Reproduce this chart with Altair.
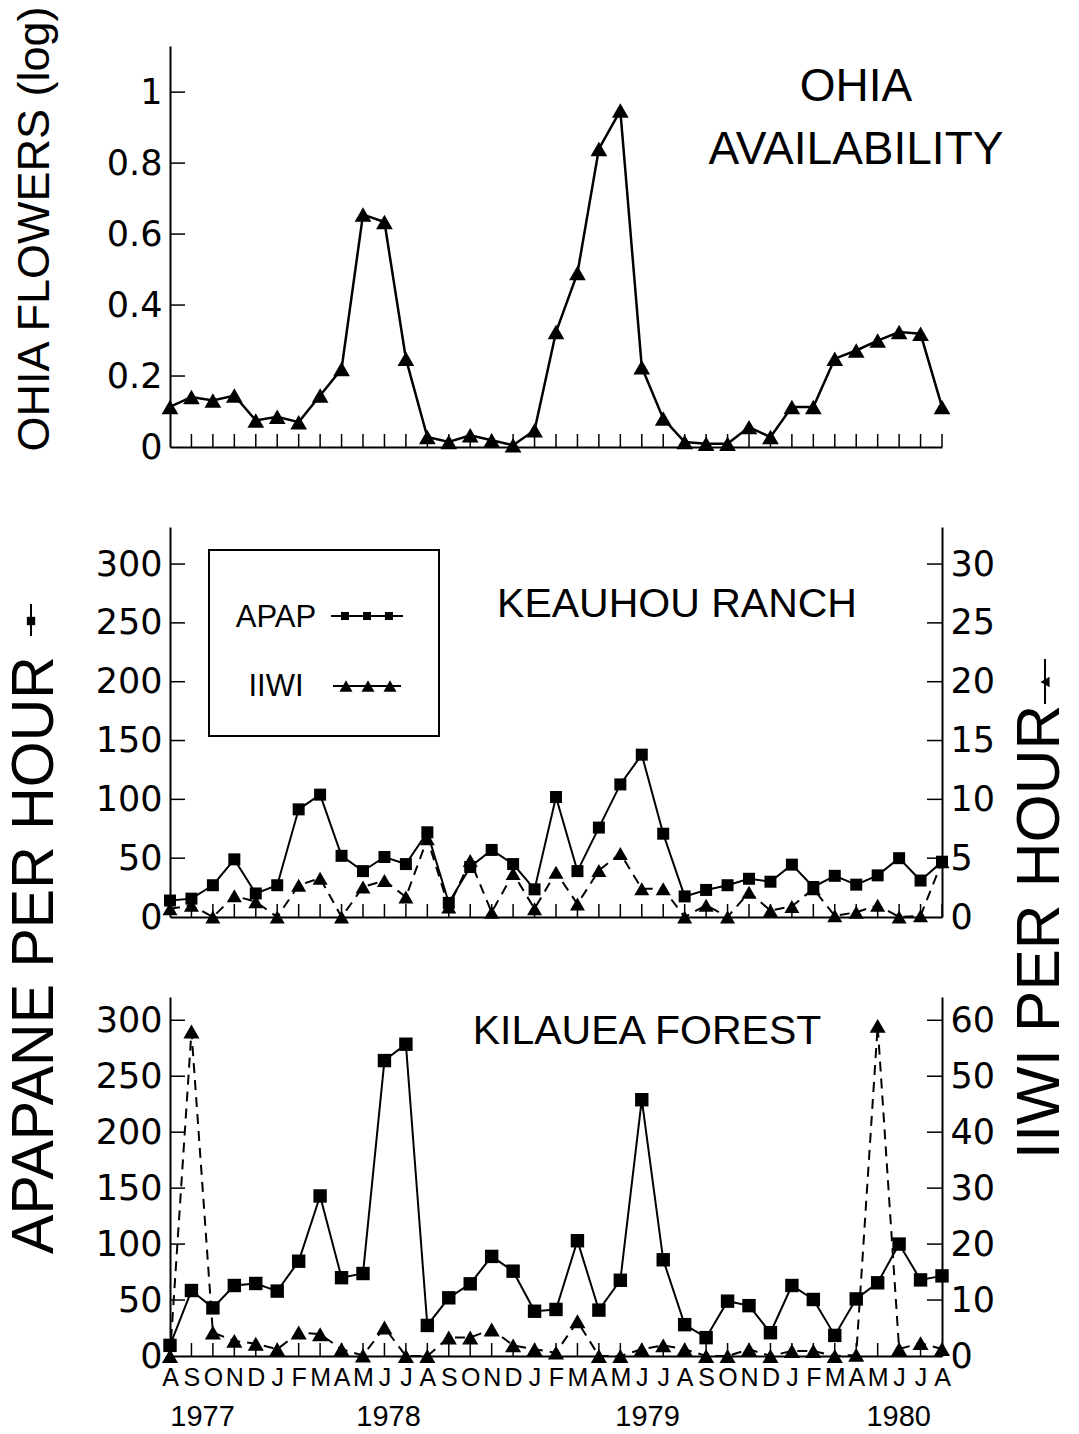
import altair as alt
import pandas as pd

# ---------------- data ----------------
months = ["A", "S", "O", "N", "D", "J", "F", "M", "A", "M", "J", "J",
          "A", "S", "O", "N", "D", "J", "F", "M", "A", "M", "J", "J",
          "A", "S", "O", "N", "D", "J", "F", "M", "A", "M", "J", "J", "A"]

ohia_flowers = [0.113, 0.141, 0.131, 0.145, 0.075, 0.085, 0.07, 0.145, 0.22,
                0.655, 0.634, 0.249, 0.028, 0.014, 0.033, 0.019, 0.005, 0.047,
                0.324, 0.49, 0.84, 0.948, 0.225, 0.08, 0.014, 0.009, 0.009,
                0.056, 0.028, 0.113, 0.113, 0.249, 0.272, 0.30, 0.324, 0.319, 0.113]

keauhou_apap = [14, 15.6, 27, 49, 20, 27, 91.5, 104, 52, 39, 51, 45, 72, 12,
                42.5, 57, 45, 23.5, 102, 39, 76, 112.7, 138, 70.8, 17.5, 23,
                27, 32.5, 30, 44.5, 25.5, 35, 27.5, 35.4, 50, 31, 47]

keauhou_iiwi = [0.7, 1.0, 0, 1.8, 1.3, 0, 2.7, 3.3, 0, 2.55, 3.1, 1.7, 6.65,
                0.85, 4.8, 0.4, 3.7, 0.7, 3.8, 1.1, 3.96, 5.4, 2.4, 2.4, 0,
                1.0, 0, 2.1, 0.55, 0.9, 2.4, 0.1, 0.4, 1.0, 0, 0.1, 4.7]

kilauea_apap = [9.5, 58.5, 43, 63, 64.8, 58, 84.7, 143, 70, 73.7, 264, 278.6,
                27.3, 52, 64.5, 89, 75.8, 40, 41.6, 103, 41, 67.7, 229, 86, 28,
                16.4, 49, 45, 20.8, 63, 50.5, 18.4, 51, 65.4, 100, 68, 71.6]

kilauea_iiwi = [0, 58, 4.2, 2.7, 2.2, 1.2, 4.2, 3.9, 1.2, 0.1, 5.1, 0, 0, 3.3,
                3.3, 4.75, 1.9, 1.2, 0.6, 6.2, 0, 0, 1.2, 1.9, 1.2, 0, 0, 1.2,
                0, 0.9, 0.9, 0, 0.2, 59, 1.25, 2.3, 1.25]

year_labels = ["1977", "1978", "1979", "1980"]
year_month_pos = [1.52, 10.19, 22.27, 33.98]

ohia_ticks = [0, 0.2, 0.4, 0.6, 0.8, 1]
apap_ticks = [0, 50, 100, 150, 200, 250, 300]
keauhou_iiwi_ticks = [0, 5, 10, 15, 20, 25, 30]
kilauea_iiwi_ticks = [0, 10, 20, 30, 40, 50, 60]

# ---------------- layout constants ----------------
W = 772
H_TOP, H_MID, H_BOT = 401, 390, 359
TEXT_FONT = "Liberation Sans"
NUM_FONT = "DejaVu Sans"

idx = list(range(len(months)))
xscale = alt.Scale(domain=[0, len(months) - 1], nice=False, zero=False)


def x_axis(labels=False):
    if labels:
        expr = "[" + ",".join("'%s'" % m for m in months) + "][datum.value]"
        return alt.Axis(values=idx, labelExpr=expr, ticks=False, grid=False,
                        title=None, domainColor="black", domainWidth=2,
                        labelFont=TEXT_FONT, labelFontSize=25, labelColor="black",
                        labelPadding=9, labelFlush=False, labelOverlap=False,
                        labelBound=False)
    return alt.Axis(labels=False, ticks=False, grid=False, title=None,
                    domainColor="black", domainWidth=2)


def y_axis(vals, orient="left", fmt="d"):
    return alt.Axis(values=vals, orient=orient, format=fmt, ticks=False,
                    grid=False, title=None, domainColor="black", domainWidth=2,
                    labelFont=NUM_FONT, labelFontSize=35, labelColor="black",
                    labelPadding=8)


def x_ticks(h, xax):
    df = pd.DataFrame({"m": idx[1:]})
    return alt.Chart(df).mark_rule(color="black", strokeWidth=1.5).encode(
        x=alt.X("m:Q", scale=xscale, axis=xax),
        y=alt.value(h), y2=alt.value(h - 13))


def y_ticks(vals, scale, yax, side="left"):
    df = pd.DataFrame({"t": vals})
    x0, x1 = (0, 15) if side == "left" else (W, W - 15)
    return alt.Chart(df).mark_rule(color="black", strokeWidth=1.5).encode(
        y=alt.Y("t:Q", scale=scale, axis=yax),
        x=alt.value(x0), x2=alt.value(x1))


def label(text, x, y, size, angle=0, align="center", baseline="alphabetic",
          font=TEXT_FONT):
    return alt.Chart(pd.DataFrame({"t": [text]})).mark_text(
        font=font, fontSize=size, angle=angle, align=align, baseline=baseline,
        color="black").encode(x=alt.value(x), y=alt.value(y), text="t:N")


one = pd.DataFrame({"k": [0]})


def deco_point(x, y, shape, size):
    return alt.Chart(one).mark_point(shape=shape, filled=True, size=size,
                                     color="black", opacity=1).encode(
        x=alt.value(x), y=alt.value(y))


def deco_hline(x0, x1, y):
    return alt.Chart(one).mark_rule(color="black", strokeWidth=2).encode(
        x=alt.value(x0), x2=alt.value(x1), y=alt.value(y))


def deco_vline(x, y0, y1):
    return alt.Chart(one).mark_rule(color="black", strokeWidth=2).encode(
        x=alt.value(x), y=alt.value(y0), y2=alt.value(y1))


# ---------------- top panel ----------------
top_df = pd.DataFrame({"m": idx, "v": ohia_flowers})
top_y = alt.Scale(domain=[0, 1.13], nice=False, zero=False)
top_xax = x_axis(False)
top_yax = y_axis(ohia_ticks, "left", "~g")
top_base = alt.Chart(top_df).encode(
    x=alt.X("m:Q", scale=xscale, axis=top_xax),
    y=alt.Y("v:Q", scale=top_y, axis=top_yax))
top = alt.layer(
    top_base.mark_line(color="black", strokeWidth=2.5),
    top_base.mark_point(shape="triangle-up", filled=True, size=280,
                        color="black", opacity=1),
    x_ticks(H_TOP, top_xax),
    y_ticks(ohia_ticks[1:], top_y, top_yax),
    label("OHIA", 686, 55, 46),
    label("AVAILABILITY", 686, 118, 46),
    label("OHIA FLOWERS (log)", -135, 183, 45, angle=270, baseline="middle"),
).properties(width=W, height=H_TOP)


# ---------------- site panel builder ----------------
def site_panel(apap, iiwi, h, apap_dom, iiwi_dom, iiwi_ticks, sq_size, tri_size,
               show_months, extras_left, with_years=False):
    df = pd.DataFrame({"m": idx, "apap": apap, "iiwi": iiwi})
    ls = alt.Scale(domain=[0, apap_dom], nice=False, zero=False)
    rs = alt.Scale(domain=[0, iiwi_dom], nice=False, zero=False)
    xax = x_axis(show_months)
    lax = y_axis(apap_ticks, "left")
    rax = y_axis(iiwi_ticks, "right")
    lb = alt.Chart(df).encode(
        x=alt.X("m:Q", scale=xscale, axis=xax),
        y=alt.Y("apap:Q", scale=ls, axis=lax))
    rb = alt.Chart(df).encode(
        x=alt.X("m:Q", scale=xscale, axis=xax),
        y=alt.Y("iiwi:Q", scale=rs, axis=rax))
    extra_layers = list(extras_left)
    if with_years:
        years_df = pd.DataFrame({"year": year_labels, "pos": year_month_pos})
        extra_layers.append(alt.Chart(years_df).mark_text(
            font=TEXT_FONT, fontSize=29, baseline="alphabetic",
            color="black").encode(
            x=alt.X("pos:Q", scale=xscale, axis=xax), y=alt.value(h + 70),
            text="year:N"))
    left = alt.layer(
        lb.mark_line(color="black", strokeWidth=2),
        lb.mark_point(shape="square", filled=True, size=sq_size,
                      color="black", opacity=1),
        x_ticks(h, xax),
        y_ticks(apap_ticks[1:], ls, lax, "left"),
        *extra_layers,
    )
    right = alt.layer(
        rb.mark_line(color="black", strokeWidth=2, strokeDash=[10, 7]),
        rb.mark_point(shape="triangle-up", filled=True, size=tri_size,
                      color="black", opacity=1),
        y_ticks(iiwi_ticks[1:], rs, rax, "right"),
    )
    return alt.layer(left, right).resolve_scale(y="independent").properties(
        width=W, height=h)


legend_parts = [
    alt.Chart(one).mark_rect(fillOpacity=0, stroke="black", strokeWidth=2).encode(
        x=alt.value(39), x2=alt.value(269), y=alt.value(23), y2=alt.value(209)),
    label("APAP", 106, 100, 31),
    deco_hline(161, 233, 89),
    deco_point(175, 89, "square", 64),
    deco_point(197, 89, "square", 64),
    deco_point(219, 89, "square", 64),
    label("IIWI", 106, 169, 31),
    deco_hline(163, 231, 159),
    deco_point(176, 159, "triangle-up", 170),
    deco_point(198, 159, "triangle-up", 170),
    deco_point(220, 159, "triangle-up", 170),
]

mid_extras = legend_parts + [
    label("KEAUHOU RANCH", 507, 90, 41),
    label("APAPANE PER HOUR", -135, 428, 59, angle=270, baseline="middle"),
    deco_vline(-139, 77, 109),
    deco_point(-139, 94, "square", 70),
    label("IIWI PER HOUR", 870, 405, 62, angle=270, baseline="middle"),
    deco_vline(875, 132, 177),
    deco_point(875, 155, "triangle-left", 110),
]

mid = site_panel(keauhou_apap, keauhou_iiwi, H_MID, 331.5, 33.15,
                 keauhou_iiwi_ticks, 144, 225, False, mid_extras)

bot_extras = [label("KILAUEA FOREST", 477, 47, 41)]

bot = site_panel(kilauea_apap, kilauea_iiwi, H_BOT, 320.8, 64.16,
                 kilauea_iiwi_ticks, 180, 260, True, bot_extras, with_years=True)

chart = alt.vconcat(top, mid, bot, spacing=80, bounds="flush").properties(
    padding={"left": 5, "top": 5, "right": 0, "bottom": 6},
    background="white",
).configure_view(stroke=None)

chart.save("out.html", embed_options={"renderer": "svg", "actions": False})
